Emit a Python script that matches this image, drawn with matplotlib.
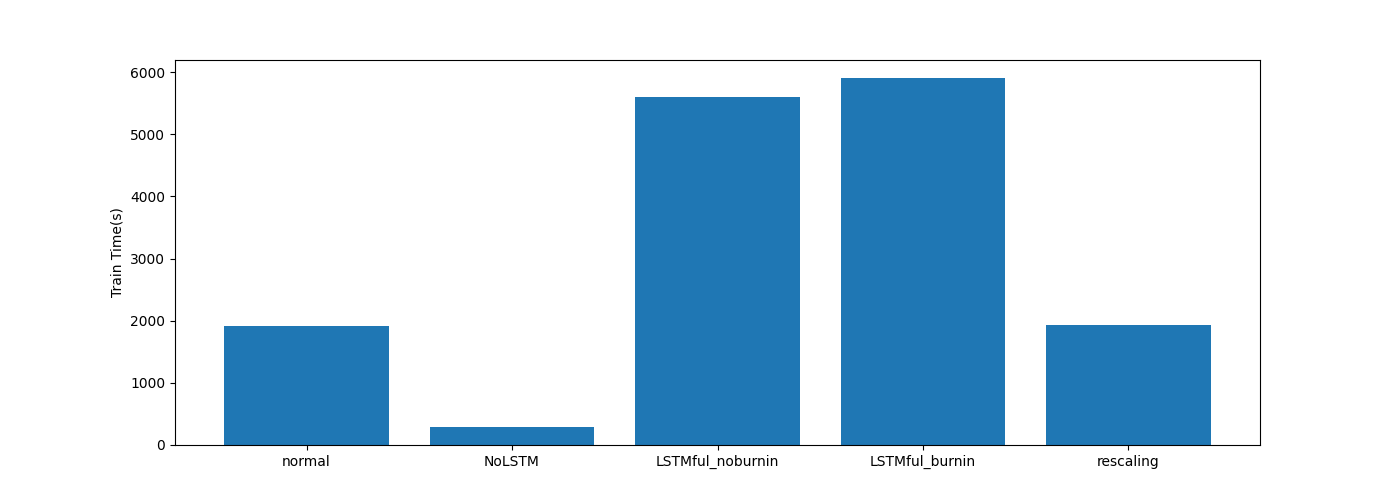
import matplotlib
matplotlib.use('Agg')
import matplotlib.pyplot as plt

models = ['normal', 'NoLSTM', 'LSTMful_noburnin', 'LSTMful_burnin', 'rescaling']
train_time = [1910, 290, 5600, 5900, 1930]


def main():
    fig, ax = plt.subplots(figsize=(14, 5), dpi=100)
    ax.bar(models, train_time)
    ax.set_ylabel('Train Time(s)')
    plt.savefig('out.png')


if __name__ == '__main__':
    main()
